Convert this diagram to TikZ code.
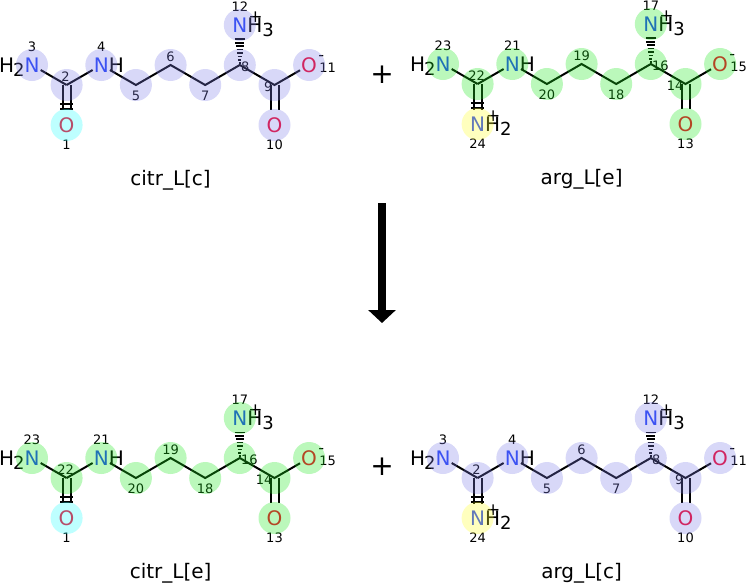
\documentclass[tikz,border=0pt]{standalone}
\usepackage{fontspec}
\setmainfont{DejaVu Sans}
\usetikzlibrary{arrows.meta,calc}

\definecolor{nblue}{RGB}{32,64,248}
\definecolor{ored}{RGB}{245,0,40}
\definecolor{lav}{RGB}{125,125,231}
\definecolor{grn}{RGB}{30,232,30}
\definecolor{cyn}{RGB}{40,255,255}
\definecolor{ylw}{RGB}{255,255,40}

\newcommand{\atomfont}{\fontsize{20}{24}\selectfont}
\newcommand{\subs}[1]{\raisebox{-4pt}{\fontsize{18}{18}\selectfont #1}}
\newcommand{\Natom}{\textcolor{nblue}{N}}
\newcommand{\Oatom}{\textcolor{ored}{O}}
\newcommand{\HtwoN}{\llap{\smash{H\kern-1pt\subs{2}}}\Natom}
\newcommand{\NHatom}{\Natom\rlap{H}}
\newcommand{\NHplus}[1]{\Natom\rlap{\smash{H\subs{#1}}}\rlap{\hspace{1pt}\smash{\raisebox{10pt}{\fontsize{17}{17}\selectfont +}}}}
\newcommand{\Ominus}{\Oatom\rlap{\hspace{1.5pt}\smash{\raisebox{12pt}{\fontsize{16}{16}\selectfont -}}}}

% atom numbers, [c] and [e] copies
\newcommand{\numsc}{\def\numA{3}\def\numB{2}\def\numC{4}\def\numD{5}\def\numE{6}\def\numF{7}\def\numG{8}\def\numH{9}\def\numI{11}\def\numJ{10}\def\numK{12}}
\newcommand{\numse}{\def\numA{23}\def\numB{22}\def\numC{21}\def\numD{20}\def\numE{19}\def\numF{18}\def\numG{16}\def\numH{14}\def\numI{15}\def\numJ{13}\def\numK{17}}

\tikzset{
  atom/.style={inner xsep=1pt, inner ysep=4pt, font=\atomfont},
  bond/.style={line width=2pt},
  dbl/.style={bond, shorten >=3pt},
  tick/.style={line width=1.5pt},
  hash/.style={line width=1.7pt},
  num/.style={inner sep=0pt, font=\fontsize{13}{15}\selectfont},
  caption/.style={anchor=base, font=\fontsize{20}{24}\selectfont},
  hilite/.style={fill=#1, fill opacity=0.3},
  plus/.style={font=\fontsize{28}{30}\selectfont},
  reaction/.style={line width=8pt, -{Triangle[width=27pt,length=13pt]}},
}

% #1 highlight, #2 lower atom, #3 its highlight, #4 its number, #5 name
\newcommand{\molecule}[5]{%
  \node[atom] (n1) at (0,0) {\HtwoN};
  \coordinate (cx) at (34.6,20);
  \node[atom] (n2) at (69.3,0) {\NHatom};
  \coordinate (ca) at (103.9,20);
  \coordinate (cb) at (138.6,0);
  \coordinate (cc) at (173.2,20);
  \coordinate (cst) at (207.8,0);
  \coordinate (cco) at (242.5,20);
  \node[atom] (om) at (277.1,0) {\Ominus};
  \node[atom] (od) at (242.5,60) {\Oatom};
  \node[atom] (xb) at (34.6,60) {#2};
  \node[atom] (nam) at (207.8,-40) {\NHplus{3}};
  \draw[bond] (n1) -- (cx);
  \draw[bond] (cx) -- (n2);
  \draw[bond] (n2) -- (ca) -- (cb) -- (cc) -- (cst) -- (cco) -- (om);
  \draw[dbl] ([xshift=-4pt]cx) -- ([xshift=-4pt]xb.north);
  \draw[dbl] ([xshift=4pt]cx) -- ([xshift=4pt]xb.north);
  \draw[tick] ($(cx)!0.475!(xb)+(-6.5,0)$) -- +(13,0);
  \draw[tick] ($(cx)!0.6!(xb)+(-6.5,0)$) -- +(13,0);
  \draw[dbl] ([xshift=-4pt]cco) -- ([xshift=-4pt]od.north);
  \draw[dbl] ([xshift=4pt]cco) -- ([xshift=4pt]od.north);
  \foreach \s [evaluate=\s as \hw using 0.6+5*\s] in {0.06,0.18,...,1}
    \draw[hash] ($(cst)!\s!(nam.south)+(-\hw,0)$) -- +(2*\hw,0);
  \node[num] (n1no) at ([shift={(0,-18)}]n1) {\numA};
  \node[num] (cxno) at ([shift={(-1,-8)}]cx) {\numB};
  \node[num] (n2no) at ([shift={(0,-18)}]n2) {\numC};
  \node[num] (cano) at ([shift={(0,11)}]ca) {\numD};
  \node[num] (cbno) at ([shift={(0,-8)}]cb) {\numE};
  \node[num] (ccno) at ([shift={(0,11)}]cc) {\numF};
  \node[num, anchor=west] (cstno) at ([shift={(1,2)}]cst) {\numG};
  \node[num, anchor=east] (ccono) at ([shift={(-2,2)}]cco) {\numH};
  \node[num, anchor=west] (omno) at ([shift={(10,3)}]om) {\numI};
  \node[num] (odno) at ([shift={(0,20)}]od) {\numJ};
  \node[num] (namno) at ([shift={(0,-18)}]nam) {\numK};
  \node[num] (xbno) at ([shift={(0,20)}]xb) {#4};
  \node[caption] (cap) at (138.6,120) {#5};
  \foreach \a in {n1,cx,n2,ca,cb,cc,cst,cco,om,od,nam}
    \fill[hilite=#1] (\a) circle (16);
  \fill[hilite=#3] (xb) circle (16);
}

\begin{document}
\begin{tikzpicture}[x=1pt, y=-1pt]
\useasboundingbox (0,0) rectangle (746,582);
% left side
\begin{scope}[shift={(32,65)}, name prefix=tl-]
  \numsc
  \molecule{lav}{\Oatom}{cyn}{1}{citr\_L[c]}
\end{scope}
\node[plus] (plustop) at (382,75) {+};
\begin{scope}[shift={(443,64)}, name prefix=tr-]
  \numse
  \molecule{grn}{\NHplus{2}}{ylw}{24}{arg\_L[e]}
\end{scope}
% reaction arrow
\coordinate (arrtail) at (382,203);
\coordinate (arrhead) at (382,323);
\draw[reaction] (arrtail) -- (arrhead);
% right side
\begin{scope}[shift={(32,458)}, name prefix=bl-]
  \numse
  \molecule{grn}{\Oatom}{cyn}{1}{citr\_L[e]}
\end{scope}
\node[plus] (plusbot) at (382,467) {+};
\begin{scope}[shift={(443,458)}, name prefix=br-]
  \numsc
  \molecule{lav}{\NHplus{2}}{ylw}{24}{arg\_L[c]}
\end{scope}
\end{tikzpicture}
\end{document}
